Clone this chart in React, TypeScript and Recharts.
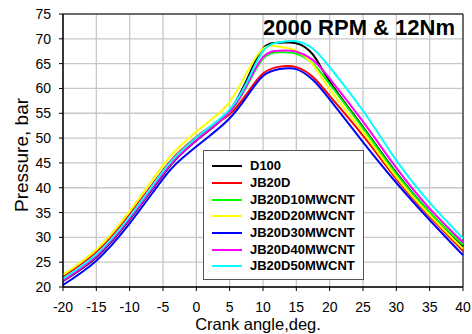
import React from 'react';
import {
  LineChart,
  Line,
  XAxis,
  YAxis,
  CartesianGrid,
  Legend,
  ReferenceArea,
} from 'recharts';

// crank angle, deg
const angles = [-20, -15, -10, -5, -2.5, 0, 2.5, 5, 7.5, 10, 12.5, 15, 17.5, 20, 25, 30, 35, 40];

// cylinder pressure, bar
const d100 = [21.2, 26.0, 33.6, 42.6, 46.5, 49.5, 52.2, 55.5, 61.5, 68.0, 69.2, 69.1, 66.8, 61.4, 52.2, 43.0, 35.0, 28.2];
const jb20d = [22.0, 27.0, 34.6, 43.5, 47.3, 50.2, 52.6, 54.8, 58.8, 63.0, 64.4, 64.3, 62.3, 58.5, 50.5, 41.8, 34.2, 27.3];
const jb20d10 = [21.5, 26.4, 34.0, 43.0, 46.8, 49.8, 52.4, 55.2, 60.3, 66.0, 67.3, 67.0, 65.0, 60.9, 52.0, 42.8, 35.0, 28.5];
const jb20d20 = [22.5, 27.5, 35.3, 44.5, 48.3, 51.3, 54.0, 57.3, 63.0, 68.0, 68.4, 67.6, 64.8, 59.8, 51.2, 42.2, 34.5, 27.7];
const jb20d30 = [20.4, 25.3, 32.8, 41.8, 45.5, 48.3, 51.0, 54.0, 58.2, 62.5, 63.9, 63.9, 61.7, 57.8, 49.2, 41.0, 33.5, 26.4];
const jb20d40 = [21.3, 26.2, 33.8, 42.8, 46.6, 49.6, 52.3, 55.3, 60.5, 66.3, 67.6, 67.4, 65.7, 62.0, 53.3, 44.0, 35.8, 29.0];
const jb20d50 = [21.7, 26.6, 34.2, 43.3, 47.1, 50.1, 52.8, 55.8, 61.0, 67.5, 69.3, 69.5, 68.0, 64.3, 55.5, 45.5, 37.0, 29.8];

const xTicks = [-20, -15, -10, -5, 0, 5, 10, 15, 20, 25, 30, 35, 40];
const yTicks = [20, 25, 30, 35, 40, 45, 50, 55, 60, 65, 70, 75];

const series = [
  { key: 'D100', values: d100, color: '#000000' },
  { key: 'JB20D', values: jb20d, color: '#ff0000' },
  { key: 'JB20D10MWCNT', values: jb20d10, color: '#00ff00' },
  { key: 'JB20D20MWCNT', values: jb20d20, color: '#ffff00' },
  { key: 'JB20D30MWCNT', values: jb20d30, color: '#0000ff' },
  { key: 'JB20D40MWCNT', values: jb20d40, color: '#ff00ff' },
  { key: 'JB20D50MWCNT', values: jb20d50, color: '#00ffff' },
];

const chartData = angles.map((angle, i) => {
  const row: Record<string, number> = { angle };
  series.forEach((s) => {
    row[s.key] = s.values[i];
  });
  return row;
});

const FONT = '"Liberation Sans", Arial, sans-serif';

function LegendBox() {
  return (
    <div
      style={{
        width: 161,
        height: 130,
        border: '1px solid #555',
        background: '#fff',
        paddingTop: 7,
        boxSizing: 'border-box',
      }}
    >
      {series.map((s) => (
        <div key={s.key} style={{ display: 'flex', alignItems: 'center', height: 16.67 }}>
          <div style={{ width: 30, height: 2, marginLeft: 8, background: s.color }} />
          <span
            style={{
              marginLeft: 8,
              fontFamily: FONT,
              fontWeight: 'bold',
              fontSize: 13,
              color: '#000',
              lineHeight: '16px',
            }}
          >
            {s.key}
          </span>
        </div>
      ))}
    </div>
  );
}

const XLabel = () => (
  <text x={258} y={324} textAnchor="middle" dominantBaseline="central" fontSize={16.5} fontFamily={FONT} fill="#000">
    Crank angle,deg.
  </text>
);

const YLabel = () => (
  <text
    x={21}
    y={155}
    transform="rotate(-90 21 155)"
    textAnchor="middle"
    dominantBaseline="central"
    fontSize={19}
    fontFamily={FONT}
    fill="#000"
  >
    Pressure, bar
  </text>
);

export default function App() {
  return (
    <div style={{ position: 'absolute', left: 0, top: 0, width: 472, height: 334, background: '#fff' }}>
      <LineChart width={472} height={334} data={chartData} margin={{ top: 14, right: 9, bottom: 0, left: 0 }}>
        <CartesianGrid stroke="#c8c8c8" strokeWidth={1.3} />
        <XAxis
          dataKey="angle"
          type="number"
          domain={[-20, 40]}
          ticks={xTicks}
          interval={0}
          height={47}
          stroke="#000"
          tickSize={4}
          tickMargin={11}
          tick={{ fill: '#000', fontSize: 14, fontFamily: FONT }}
          label={<XLabel />}
        />
        <YAxis
          type="number"
          domain={[20, 75]}
          ticks={yTicks}
          interval={0}
          width={63}
          stroke="#000"
          tickSize={4}
          tickMargin={8}
          tick={{ fill: '#000', fontSize: 14, fontFamily: FONT }}
          label={<YLabel />}
        />
        <ReferenceArea x1={-20} x2={40} y1={20} y2={75} fill="none" stroke="#000" strokeWidth={1} />
        {series.map((s) => (
          <Line
            key={s.key}
            type="natural"
            dataKey={s.key}
            stroke={s.color}
            strokeWidth={2}
            dot={false}
            isAnimationActive={false}
          />
        ))}
        <Legend
          layout="vertical"
          align="center"
          verticalAlign="middle"
          wrapperStyle={{ left: 203, top: 150, width: 162, height: 131 }}
          content={() => <LegendBox />}
        />
      </LineChart>
      <div
        style={{
          position: 'absolute',
          right: 17,
          top: 16.5,
          fontFamily: FONT,
          fontWeight: 'bold',
          fontSize: 22,
          lineHeight: '22px',
          whiteSpace: 'nowrap',
        }}
      >
        2000 RPM &amp; 12Nm
      </div>
    </div>
  );
}
